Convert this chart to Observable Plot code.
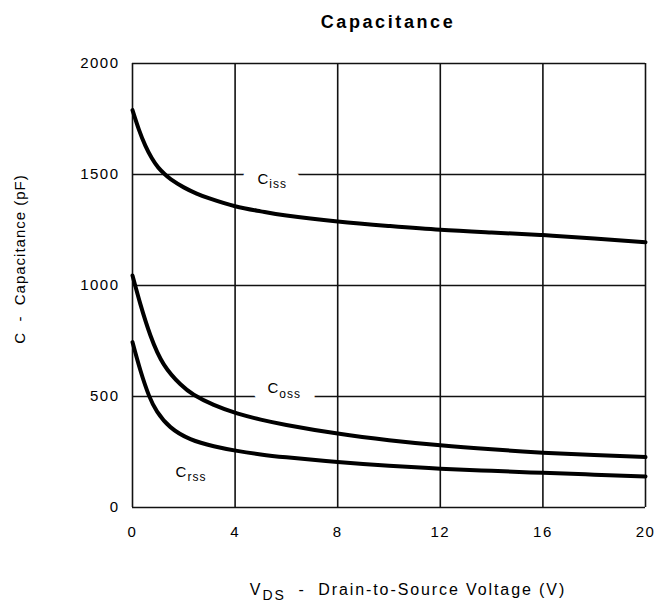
<!DOCTYPE html>
<html>
<head>
<meta charset="utf-8">
<script src="https://cdn.jsdelivr.net/npm/d3@7"></script>
<script src="https://cdn.jsdelivr.net/npm/@observablehq/plot@0.6"></script>
<style>
  html, body { margin: 0; padding: 0; background: white; }
  svg text { font-family: "Liberation Sans", Arial, sans-serif; }
</style>
</head>
<body>
<div id="chart"></div>
<script>
// ---- data ----
const vdsCiss = [0, 0.25, 0.5, 0.75, 1, 1.25, 1.5, 2, 2.5, 3, 4, 5, 6, 8, 10, 12, 14, 16, 18, 20];
const ciss = [1790, 1702, 1630, 1574, 1532, 1502, 1478, 1442, 1414, 1392, 1357, 1334, 1315, 1288, 1268, 1251, 1239, 1227, 1212, 1195];
const vdsCoss = [0, 0.31, 0.7, 1.22, 1.87, 2.39, 3.17, 4.08, 5, 6, 8, 10, 12, 14, 16, 18, 20];
const coss = [1045, 915, 775, 645, 555, 508, 462, 424, 396, 372, 333, 303, 280, 262, 247, 236, 227];
const vdsCrss = [0, 0.31, 0.64, 0.96, 1.48, 2.26, 3.17, 4.08, 5, 6, 8, 10, 12, 14, 16, 18, 20];
const crss = [745, 617, 505, 432, 362, 308, 276, 255, 239, 226, 205, 188, 175, 165, 156, 148, 140];

const xTicks = [0, 4, 8, 12, 16, 20];
const yTicks = [0, 500, 1000, 1500, 2000];

const seriesNames = ["Ciss", "Coss", "Crss"];
const labelX = [4.87, 5.26, 1.68];
const labelY = [1480, 536, 158];
const labelMask = [true, true, false];

const titleText = "Capacitance";
const xLabelMain = "V";
const xLabelSub = "DS";
const xLabelRest = "  -  Drain-to-Source Voltage (V)";
const yLabelText = "C  -  Capacitance (pF)";

// ---- tables built from the arrays ----
const rows = [];
[[vdsCiss, ciss], [vdsCoss, coss], [vdsCrss, crss]].forEach(([vs, cs], i) => {
  cs.forEach((c, j) => rows.push({series: seriesNames[i], v: vs[j], c}));
});
const labels = seriesNames.map((s, i) => ({name: s, v: labelX[i], c: labelY[i], mask: labelMask[i]}));

const W = 670, H = 603;
const chart = Plot.plot({
  width: W,
  height: H,
  marginLeft: 132,
  marginRight: 25,
  marginTop: 63,
  marginBottom: 96,
  style: {background: "white", color: "black", fontSize: "15px", fontFamily: "Liberation Sans, Arial, sans-serif"},
  x: {domain: [0, 20]},
  y: {domain: [0, 2000]},
  marks: [
    Plot.gridX({ticks: xTicks, stroke: "#111", strokeOpacity: 1, strokeWidth: 1.6}),
    Plot.gridY({ticks: yTicks, stroke: "#111", strokeOpacity: 1, strokeWidth: 1.6}),
    Plot.text(labels.filter(d => d.mask), {
      x: "v", y: "c", text: "name", textAnchor: "start",
      fill: "white", stroke: "white", strokeWidth: 30, fontSize: 15, className: "series-label"
    }),
    Plot.text(labels, {
      x: "v", y: "c", text: "name", textAnchor: "start",
      fill: "black", fontSize: 15, className: "series-label"
    }),
    Plot.line(rows, {x: "v", y: "c", z: "series", stroke: "black", strokeWidth: 4, curve: "natural"}),
    Plot.axisX({ticks: xTicks, tickSize: 0, tickPadding: 19, label: null, fontSize: 15, tickFormat: d3.format("d")}),
    Plot.axisY({ticks: yTicks, tickSize: 0, tickPadding: 13, label: null, fontSize: 15, tickFormat: d3.format("d")})
  ]
});

const svg = d3.select(chart);
svg.selectAll("g[aria-label='x-axis tick label'] text, g[aria-label='y-axis tick label'] text")
  .style("letter-spacing", "1.5px");

// subscripts in series labels
svg.selectAll(".series-label text").each(function() {
  const t = d3.select(this);
  const s = t.text();
  t.text(null).style("letter-spacing", "1px");
  t.append("tspan").text(s.slice(0, 1));
  t.append("tspan").attr("dy", "0.35em").attr("font-size", 12).text(s.slice(1));
});

// title
svg.append("text")
  .attr("x", 388).attr("y", 28)
  .attr("text-anchor", "middle")
  .attr("font-size", 18).attr("font-weight", "bold")
  .style("letter-spacing", "2.6px")
  .attr("fill", "black")
  .text(titleText);

// x label
const xl = svg.append("text")
  .attr("x", 408).attr("y", 595)
  .attr("text-anchor", "middle")
  .attr("font-size", 16)
  .style("letter-spacing", "1.9px")
  .style("white-space", "pre")
  .attr("fill", "black");
xl.append("tspan").text(xLabelMain);
xl.append("tspan").attr("dy", 5).attr("font-size", 14).text(xLabelSub);
xl.append("tspan").attr("dy", -5).text(xLabelRest);

// y label
svg.append("text")
  .attr("transform", "translate(25,259) rotate(-90)")
  .attr("text-anchor", "middle")
  .attr("font-size", 15)
  .style("letter-spacing", "1px")
  .style("white-space", "pre")
  .attr("fill", "black")
  .text(yLabelText);

document.getElementById("chart").appendChild(chart);
</script>
</body>
</html>
